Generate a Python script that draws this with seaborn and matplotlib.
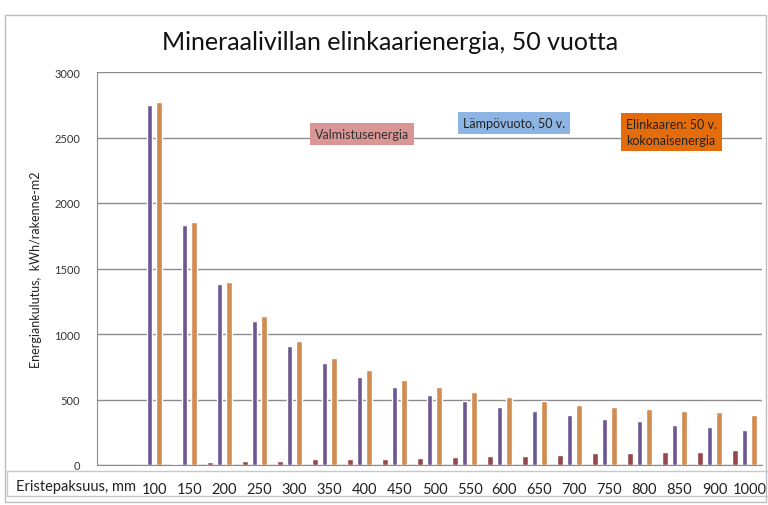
import pandas as pd
import matplotlib.pyplot as plt
import seaborn as sns
from matplotlib.lines import Line2D
from matplotlib.patches import Rectangle
from matplotlib.transforms import ScaledTranslation

# Data
thickness = ["100", "150", "200", "250", "300", "350", "400", "450", "500",
             "550", "600", "650", "700", "750", "800", "850", "900", "1000"]
valmistus = [0, 10, 22, 30, 32, 42, 47, 47, 55, 63, 70, 70, 78, 88, 88, 98, 103, 113]
lampovuoto = [2750, 1835, 1378, 1098, 907, 777, 671, 595, 537, 485, 442, 411,
              381, 350, 333, 307, 289, 264]
kokonais = [2770, 1855, 1397, 1134, 946, 816, 725, 648, 596, 554, 521, 488,
            460, 442, 424, 414, 401, 384]

series_names = ["Valmistusenergia", "Lämpövuoto, 50 v.", "Elinkaaren: 50 v. kokonaisenergia"]
bar_colors = ["#A33A3F", "#6A4C9C", "#E8893A"]

df = pd.DataFrame({
    "paksuus": thickness * 3,
    "sarja": [series_names[0]] * 18 + [series_names[1]] * 18 + [series_names[2]] * 18,
    "energia": valmistus + lampovuoto + kokonais,
})

sns.set_style("white")
plt.rcParams['font.family'] = ['Lato', 'DejaVu Sans']

W, H = 768, 506
fig = plt.figure(figsize=(W / 100, H / 100), dpi=100)

left, right, top, bottom = 97, 762, 73, 466
ax = fig.add_axes([left / W, 1 - bottom / H, (right - left) / W, (bottom - top) / H])

sns.barplot(data=df, x="paksuus", y="energia", hue="sarja", order=thickness,
            hue_order=series_names, palette=bar_colors, width=0.85, gap=0.4,
            legend=False, ax=ax)

ax.set_xlim(-1.5, 17.5)
ax.set_ylim(0, 3000)
ax.set_yticks(range(0, 3001, 500))
ax.yaxis.grid(True, color="#8c8c8c", lw=1)
ax.set_axisbelow(True)
for s in ["top", "right"]:
    ax.spines[s].set_visible(False)
ax.spines["left"].set_color("#8c8c8c")
ax.spines["bottom"].set_color("#8c8c8c")
ax.tick_params(axis="y", labelsize=8, colors="#333333", length=0, pad=12)
ax.tick_params(axis="x", labelsize=10.5, colors="#222222", length=0, pad=12)
# the table labels sit a little right of the bar groups
shift = ScaledTranslation(5 / 100, 0, fig.dpi_scale_trans)
for lab in ax.get_xticklabels():
    lab.set_transform(lab.get_transform() + shift)
ax.set_xlabel("")
ax.set_ylabel("Energiankulutus,  kWh/rakenne-m2", fontsize=9, color="#222222", labelpad=9)

# title
fig.text(390 / W, 1 - 42 / H, "Mineraalivillan elinkaarienergia, 50 vuotta",
         ha="center", va="center", fontsize=18, color="#111111")

# x label in the table row
fig.text(16 / W, 1 - 487 / H, "Eristepaksuus, mm", ha="left", va="center",
         fontsize=10.5, color="#222222")

# table row lines and chart border
for y in (472, 497):
    fig.add_artist(Line2D([7 / W, 1], [1 - y / H, 1 - y / H], color="#c8c8c8", lw=1))
fig.add_artist(Line2D([7 / W, 7 / W], [1 - 472 / H, 1 - 497 / H], color="#c8c8c8", lw=1))
fig.add_artist(Rectangle((5 / W, 1 - 503 / H), 761 / W, 487 / H, fill=False,
                         edgecolor="#bdbdbd", lw=1))

# text boxes used as legend
box = dict(boxstyle="square,pad=0.4", lw=0)
fig.text(315 / W, 1 - 135 / H, "Valmistusenergia", ha="left", va="center",
         fontsize=9, color="#333333", bbox=dict(box, facecolor="#D99694"))
fig.text(463 / W, 1 - 124 / H, "Lämpövuoto, 50 v.", ha="left", va="center",
         fontsize=9, color="#222222", bbox=dict(box, facecolor="#8DB4E2"))
fig.text(626 / W, 1 - 133 / H, "Elinkaaren: 50 v.\nkokonaisenergia", ha="left",
         va="center", fontsize=9, color="#222222", linespacing=1.35,
         bbox=dict(box, facecolor="#E46C0A"))

plt.savefig("out.png", dpi=100)
